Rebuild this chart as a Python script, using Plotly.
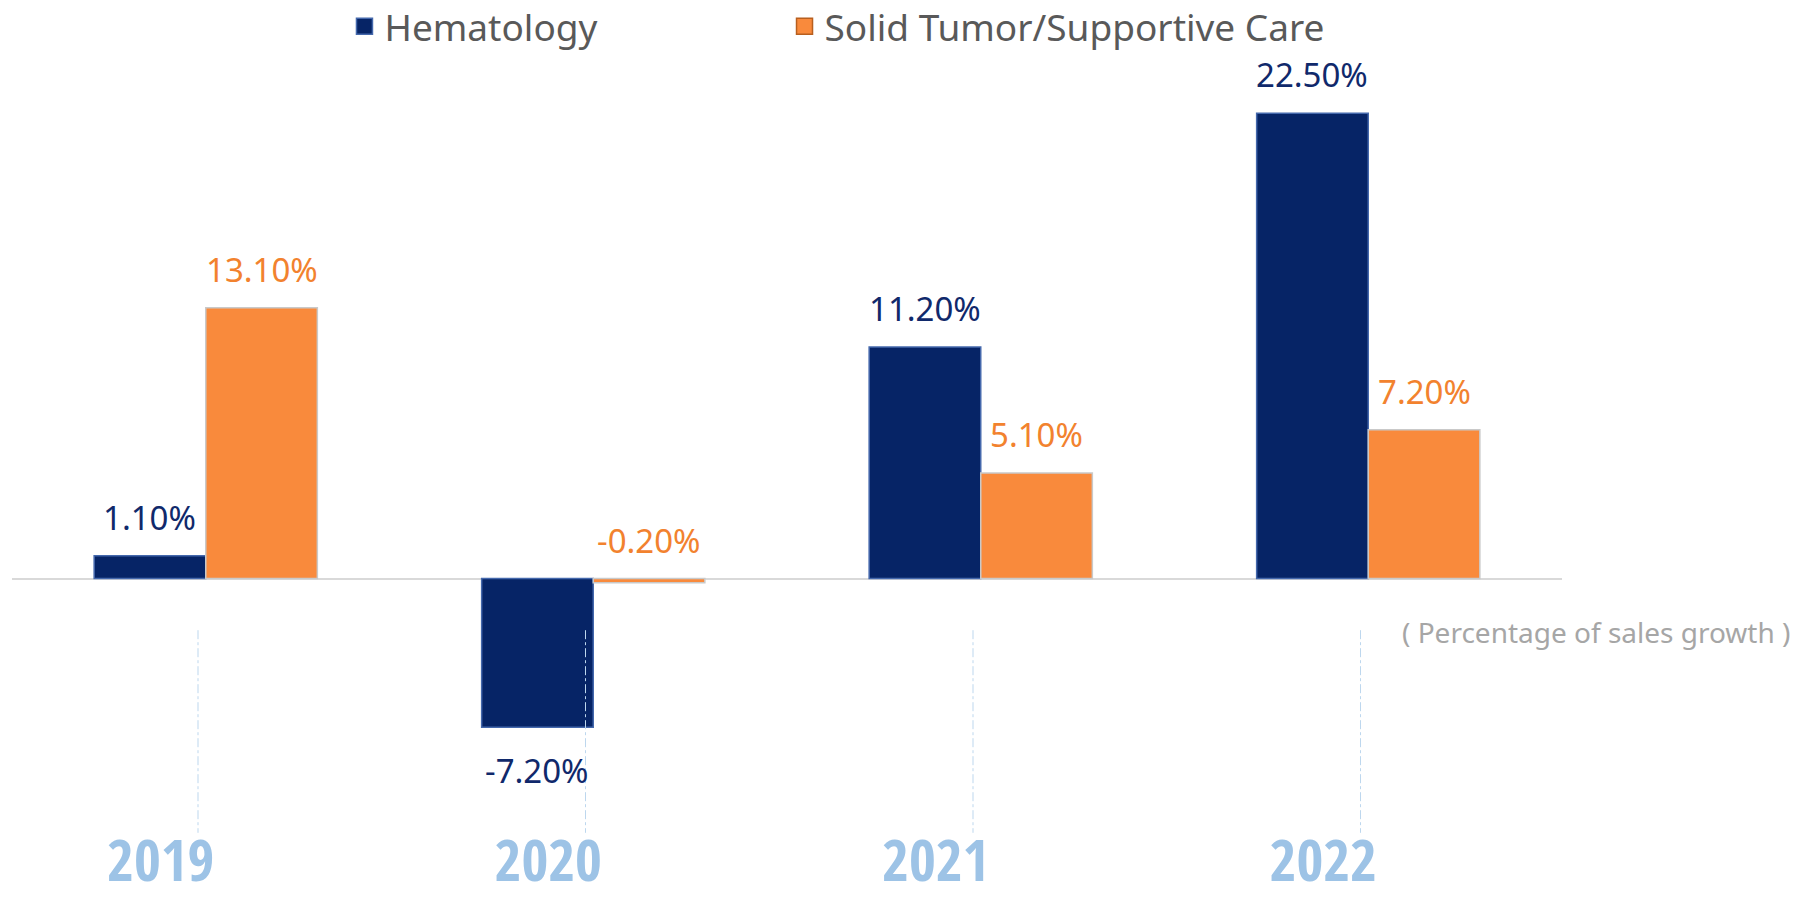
import plotly.graph_objects as go

years = ["2019", "2020", "2021", "2022"]
hematology = [1.1, -7.2, 11.2, 22.5]
solid_tumor = [13.1, -0.2, 5.1, 7.2]
series_names = ["Hematology", "Solid Tumor/Supportive Care"]
note_text = "( Percentage of sales growth )"

NAVY = "#062466"
ORANGE = "#F98A3C"
NAVY_TXT = "#10296B"
ORANGE_TXT = "#F2822E"
LABEL_FONT = "Noto Sans, Open Sans, sans-serif"
YEAR_FONT = ("Noto Sans ExtraCondensed Black, Noto Sans ExtraCondensed, "
             "Noto Sans Condensed Black, Noto Sans Condensed, Open Sans Condensed, "
             "Roboto Condensed, Roboto, sans-serif")

fig = go.Figure()
fig.add_trace(go.Bar(name=series_names[0], x=years, y=hematology,
                     marker=dict(color=NAVY, line=dict(color="#4468AC", width=1.5)),
                     showlegend=False))
fig.add_trace(go.Bar(name=series_names[1], x=years, y=solid_tumor,
                     marker=dict(color=ORANGE, line=dict(color="#C9C9C9", width=1.5)),
                     showlegend=False))

# legend entries (bigger squares), one legend each so they can be placed apart
fig.add_trace(go.Scatter(name=series_names[0], x=[None], y=[None], mode="markers",
                         legend="legend",
                         marker=dict(symbol="square", size=20, color=NAVY,
                                     line=dict(color="#4468AC", width=1.5))))
fig.add_trace(go.Scatter(name=series_names[1], x=[None], y=[None], mode="markers",
                         legend="legend2",
                         marker=dict(symbol="square", size=20, color=ORANGE,
                                     line=dict(color="#B85F1E", width=1.5))))

bargap = 0.424
half = (1 - bargap) / 4  # offset of each bar centre from category centre
annotations = []
for i, (h, s) in enumerate(zip(hematology, solid_tumor)):
    for v, off, col in ((h, -half, NAVY_TXT), (s, half, ORANGE_TXT)):
        pos = v >= 0 or abs(v) < 1
        annotations.append(dict(
            x=i + off, y=max(v, 0) if pos else v, xref="x", yref="y",
            text=f"{v:.2f}%", showarrow=False,
            yanchor="bottom" if pos else "top",
            yshift=14 if pos else -19,
            font=dict(family=LABEL_FONT, size=33, color=col)))

annotations.append(dict(
    x=1.1484, y=-2.6, xref="paper", yref="y", xanchor="right", yanchor="middle",
    text=note_text, showarrow=False,
    font=dict(family=LABEL_FONT, size=28, color="#A6A6A6")))

shapes = []
for i in range(len(years)):
    shapes.append(dict(type="line", xref="x", yref="y",
                       x0=i - 0.02, x1=i - 0.02, y0=-2.5, y1=-12.3,
                       line=dict(color="#BDD7EE", width=1, dash="dashdot")))

legend_common = dict(orientation="h", y=1.018, xanchor="left", yanchor="middle",
                     font=dict(family=LABEL_FONT, size=37, color="#595959"),
                     bgcolor="rgba(0,0,0,0)", itemsizing="trace")

fig.update_layout(
    width=1805, height=895,
    paper_bgcolor="white", plot_bgcolor="white",
    margin=dict(l=4, r=251, t=33, b=64, autoexpand=False),
    barmode="group", bargap=bargap, bargroupgap=0,
    annotations=annotations, shapes=shapes,
    legend=dict(x=0.2145, **legend_common),
    legend2=dict(x=0.4984, **legend_common),
    xaxis=dict(showgrid=False, showline=False, zeroline=False, ticks="",
               automargin=False,
               ticklabelshift=-45, ticklabelstandoff=-17,
               tickfont=dict(family=YEAR_FONT,
                             size=58, color="#9DC3E6", weight=900)),
    yaxis=dict(range=[-12.6, 26], showgrid=False, showticklabels=False, showline=False,
               automargin=False,
               zeroline=True, zerolinecolor="#D9D9D9", zerolinewidth=1.5),
)

fig.write_html("out.html")
